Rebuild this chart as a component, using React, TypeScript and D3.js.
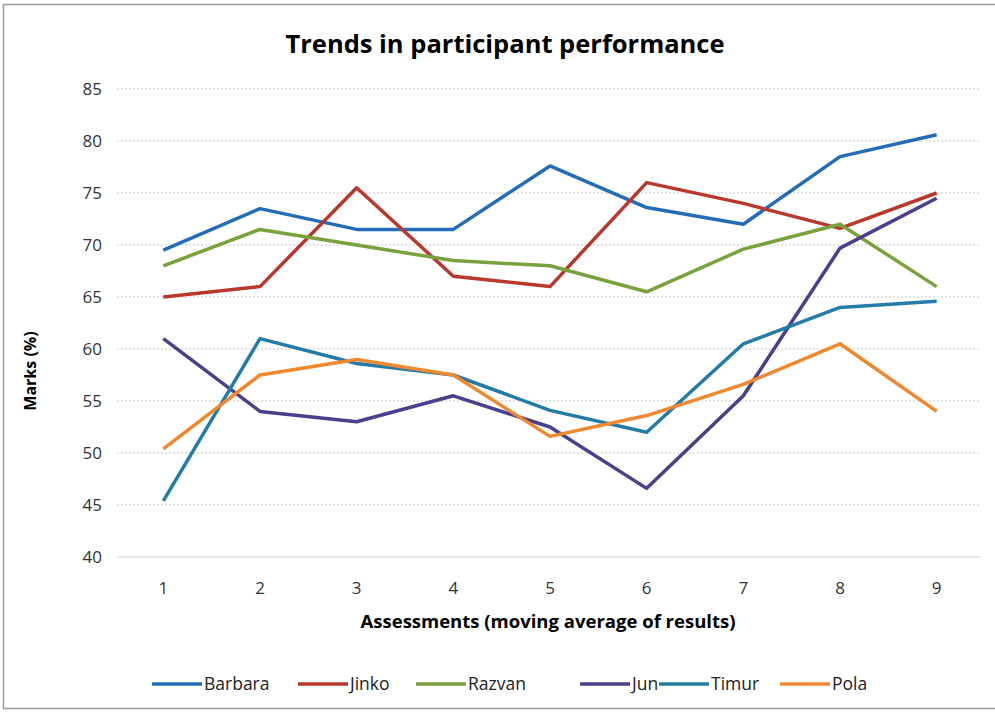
import * as d3 from "d3";

const assessments = ["1", "2", "3", "4", "5", "6", "7", "8", "9"];
const yTicks = [40, 45, 50, 55, 60, 65, 70, 75, 80, 85];

const barbara = [69.5, 73.5, 71.5, 71.5, 77.6, 73.6, 72, 78.5, 80.6];
const jinko = [65, 66, 75.5, 67, 66, 76, 74, 71.6, 75];
const razvan = [68, 71.5, 70, 68.5, 68, 65.5, 69.6, 72, 66];
const jun = [61, 54, 53, 55.5, 52.5, 46.6, 55.5, 69.7, 74.5];
const timur = [45.4, 61, 58.6, 57.5, 54.1, 52, 60.5, 64, 64.6];
const pola = [50.4, 57.5, 59, 57.5, 51.6, 53.6, 56.6, 60.5, 54];

const seriesNames = ["Barbara", "Jinko", "Razvan", "Jun", "Timur", "Pola"];
const seriesValues = [barbara, jinko, razvan, jun, timur, pola];
const colors = ["#236cb8", "#b9372b", "#79a23d", "#4a3f8d", "#237ba7", "#f0882e"];

const W = 995;
const H = 712;
const MARGIN = { top: 89, right: 10, bottom: 155, left: 115 };
const FONT = "'Open Sans', 'Liberation Sans', sans-serif";

// legend line starts along the bottom row
const legendX = [152, 298, 416, 580, 659, 780];

export default function App() {
  const boundsWidth = W - MARGIN.left - MARGIN.right;
  const xScale = d3.scaleBand<string>().domain(assessments).range([MARGIN.left, MARGIN.left + boundsWidth]);
  const yScale = d3.scaleLinear().domain([40, 85]).range([H - MARGIN.bottom, MARGIN.top]);

  const line = d3
    .line<number>()
    .x((_, i) => (xScale(assessments[i]) ?? 0) + xScale.bandwidth() / 2)
    .y((d) => yScale(d));

  return (
    <svg width={W} height={H} style={{ position: "absolute", left: 0, top: 0, background: "#fff" }}>
      <rect x={3.5} y={4.5} width={W + 10} height={H - 8} fill="#fff" stroke="#9a9a9a" strokeWidth={1.5} />
      <text x={505} y={53} textAnchor="middle" fontFamily={FONT} fontWeight="bold" fontSize={25.5} fill="#000">
        Trends in participant performance
      </text>

      {yTicks.map((t) => (
        <g key={t}>
          <line
            x1={117}
            x2={W - 15}
            y1={yScale(t)}
            y2={yScale(t)}
            stroke={t === 40 ? "#d4d4d4" : "#c8c8c8"}
            strokeWidth={1.2}
            strokeDasharray={t === 40 ? undefined : "2 2"}
          />
          <text x={102} y={yScale(t) + 6} textAnchor="end" fontFamily={FONT} fontSize={17} fill="#333">
            {t}
          </text>
        </g>
      ))}

      {assessments.map((a) => (
        <text
          key={a}
          x={(xScale(a) ?? 0) + xScale.bandwidth() / 2}
          y={594}
          textAnchor="middle"
          fontFamily={FONT}
          fontSize={17}
          fill="#333"
        >
          {a}
        </text>
      ))}

      <text x={548} y={628} textAnchor="middle" fontFamily={FONT} fontWeight="bold" fontSize={18.5} fill="#000">
        Assessments (moving average of results)
      </text>
      <text
        transform={`translate(36,${371}) rotate(-90)`}
        textAnchor="middle"
        fontFamily={FONT}
        fontWeight="bold"
        fontSize={16}
        fill="#000"
      >
        Marks (%)
      </text>

      {seriesValues.map((vals, i) => (
        <path
          key={seriesNames[i]}
          d={line(vals) ?? ""}
          fill="none"
          stroke={colors[i]}
          strokeWidth={3.5}
          strokeLinejoin="round"
        />
      ))}

      {seriesNames.map((name, i) => (
        <g key={name}>
          <line x1={legendX[i]} x2={legendX[i] + 50} y1={684} y2={684} stroke={colors[i]} strokeWidth={3.5} />
          <text x={legendX[i] + 52} y={690} fontFamily={FONT} fontSize={17.5} fill="#222">
            {name}
          </text>
        </g>
      ))}
    </svg>
  );
}
